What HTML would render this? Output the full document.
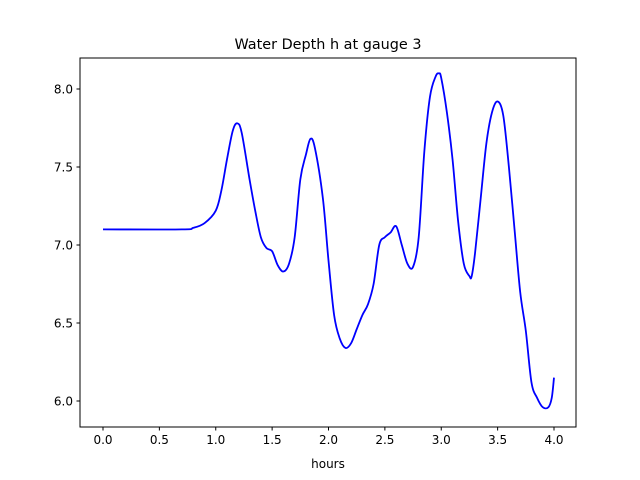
<!DOCTYPE html>
<html><head><meta charset="utf-8"><style>
html,body{margin:0;padding:0;background:#fff;}
svg{display:block;font-family:"DejaVu Sans","Liberation Sans",sans-serif;}
</style></head><body>
<svg id="chart" width="640" height="480" viewBox="0 0 640 480">
<rect width="640" height="480" fill="#fff"/>
<text x="328" y="49" text-anchor="middle" font-size="14.4">Water Depth h at gauge 3</text>
<g id="xt"></g>
<g id="yt"></g>
<path id="line" fill="none" stroke="#0000ff" stroke-width="1.8" stroke-linejoin="round"/>
<rect x="80" y="58" width="496" height="369" fill="none" stroke="#000" stroke-width="1"/>
<text x="328" y="468" text-anchor="middle" font-size="12">hours</text>
</svg>
<script>
const times=[0,0.7,0.8,0.9,1.0,1.05,1.1,1.15,1.19,1.23,1.3,1.35,1.4,1.45,1.5,1.55,1.6,1.65,1.7,1.75,1.8,1.84,1.88,1.95,2.0,2.05,2.1,2.15,2.2,2.25,2.3,2.35,2.4,2.45,2.5,2.55,2.6,2.65,2.7,2.75,2.8,2.85,2.9,2.95,2.98,3.0,3.05,3.1,3.15,3.2,3.25,3.27,3.3,3.35,3.4,3.45,3.5,3.55,3.6,3.65,3.7,3.75,3.8,3.85,3.9,3.95,3.98,4.0];
const depths=[7.1,7.1,7.11,7.14,7.22,7.35,7.55,7.73,7.78,7.72,7.42,7.22,7.05,6.98,6.96,6.87,6.83,6.88,7.05,7.42,7.58,7.68,7.62,7.3,6.9,6.55,6.4,6.34,6.37,6.46,6.55,6.62,6.75,7.0,7.05,7.08,7.12,7.0,6.88,6.86,7.05,7.6,7.95,8.08,8.1,8.07,7.85,7.55,7.15,6.88,6.8,6.8,6.95,7.3,7.65,7.85,7.92,7.83,7.5,7.1,6.7,6.45,6.12,6.02,5.96,5.96,6.02,6.15];
const xTicks=[0,0.5,1,1.5,2,2.5,3,3.5,4];
const yTicks=[6,6.5,7,7.5,8];
const xs=t=>103+t*112.75;
const ys=h=>245-(h-7)*156;
const NS="http://www.w3.org/2000/svg";
function mk(tag,attrs,parent){const e=document.createElementNS(NS,tag);for(const k in attrs)e.setAttribute(k,attrs[k]);parent.appendChild(e);return e;}
const xg=document.getElementById('xt'),yg=document.getElementById('yt');
xTicks.forEach(v=>{const x=xs(v);
 const l=mk('line',{x1:x,x2:x,y1:427,y2:430.5,stroke:'#000'},xg);
 
 
 const t=mk('text',{x:x,y:444,'text-anchor':'middle','font-size':'12'},xg);t.textContent=v.toFixed(1);
 
 
});
yTicks.forEach(v=>{const y=ys(v);
 const l=mk('line',{x1:76.5,x2:80,y1:y,y2:y,stroke:'#000'},yg);
 
 
 const t=mk('text',{x:73,y:y+4.5,'text-anchor':'end','font-size':'12'},yg);t.textContent=v.toFixed(1);
 
 
});
// Catmull-Rom smoothing
const P=times.map((t,i)=>[xs(t),ys(depths[i])]);
let d='M'+P[0][0]+','+P[0][1];
for(let i=0;i<P.length-1;i++){const p0=P[Math.max(0,i-1)],p1=P[i],p2=P[i+1],p3=P[Math.min(P.length-1,i+2)];
 const c1=[p1[0]+(p2[0]-p0[0])/6,p1[1]+(p2[1]-p0[1])/6],c2=[p2[0]-(p3[0]-p1[0])/6,p2[1]-(p3[1]-p1[1])/6];
 d+=` C${c1[0]},${c1[1]} ${c2[0]},${c2[1]} ${p2[0]},${p2[1]}`;}
document.getElementById('line').setAttribute('d',d);
</script>
</body></html>
